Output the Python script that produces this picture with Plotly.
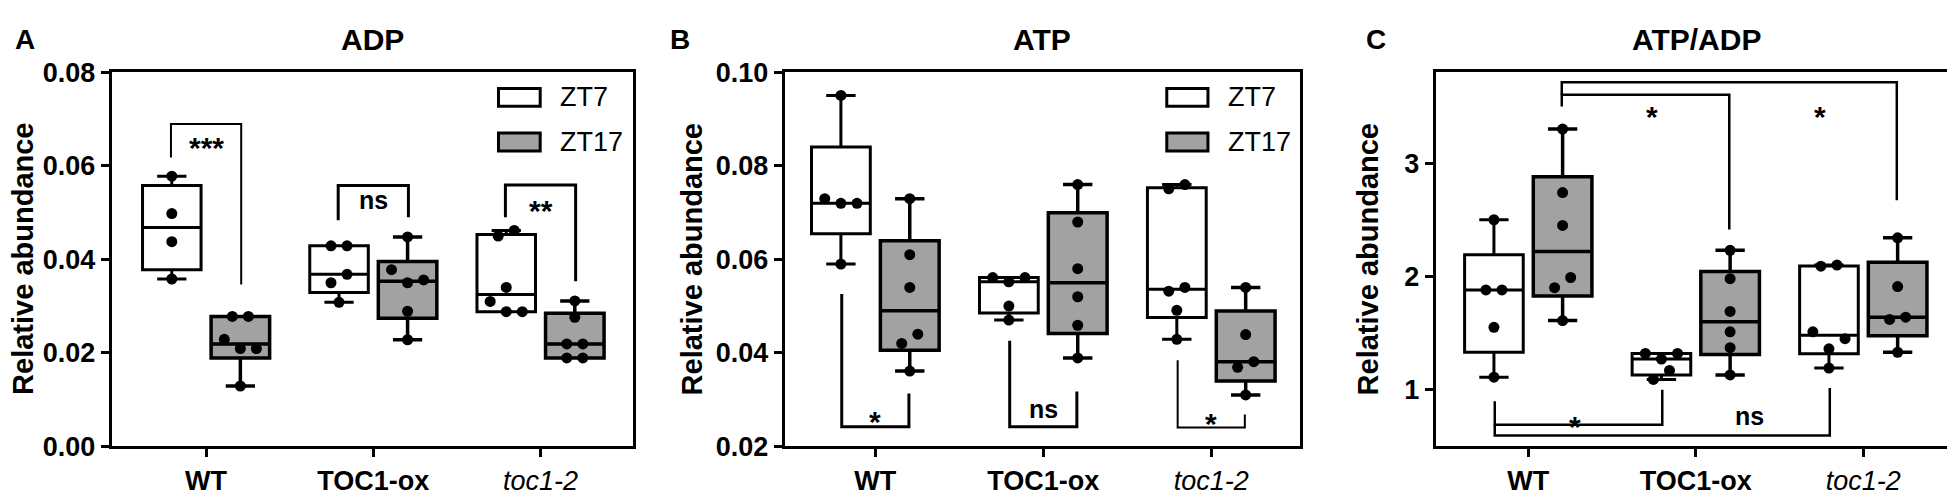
import numpy as np
import plotly.graph_objects as go

W, H = 1955, 493

groups = ["WT", "TOC1-ox", "toc1-2"]
group_labels = ["<b>WT</b>", "<b>TOC1-ox</b>", "<i>toc1-2</i>"]
times = ["ZT7", "ZT17"]

# values read per genotype (WT, TOC1-ox, toc1-2)
adp_zt7 = [[0.0358, 0.0438, 0.0498, 0.0578],
           [0.0308, 0.0350, 0.0368, 0.0429, 0.0429],
           [0.0288, 0.0288, 0.0310, 0.0340, 0.0450, 0.0462]]
adp_zt17 = [[0.0129, 0.0209, 0.0209, 0.0229, 0.0278, 0.0278],
            [0.0228, 0.0289, 0.0350, 0.0356, 0.0378, 0.0448],
            [0.0189, 0.0189, 0.0219, 0.0219, 0.0276, 0.0311]]
atp_zt7 = [[0.0590, 0.0720, 0.0720, 0.0730, 0.0951],
           [0.0470, 0.0500, 0.0552, 0.0561, 0.0561],
           [0.0429, 0.0491, 0.0532, 0.0540, 0.0751, 0.0760]]
atp_zt17 = [[0.0361, 0.0420, 0.0440, 0.0540, 0.0610, 0.0730],
            [0.0389, 0.0459, 0.0520, 0.0580, 0.0680, 0.0760],
            [0.0310, 0.0369, 0.0381, 0.0439, 0.0540]]
ratio_zt7 = [[1.11, 1.55, 1.88, 1.88, 2.50],
             [1.09, 1.17, 1.27, 1.32, 1.32],
             [1.19, 1.36, 1.45, 1.51, 2.09, 2.10]]
ratio_zt17 = [[1.61, 1.90, 1.99, 2.45, 2.74, 3.30],
              [1.13, 1.37, 1.51, 1.69, 1.98, 2.23],
              [1.33, 1.62, 1.64, 1.91, 2.34]]

titles = ["ADP", "ATP", "ATP/ADP"]
letters = ["A", "B", "C"]
y_ranges = [[0, 0.08], [0.02, 0.10], [0.5, 3.8]]
y_ticks = [[0, 0.02, 0.04, 0.06, 0.08], [0.02, 0.04, 0.06, 0.08, 0.10], [1, 2, 3]]
y_formats = [".2f", ".2f", "d"]

# significance brackets: (x start, x end, y start, y bar, y end)
adp_brackets = [(-0.21, 0.21, 0.0618, 0.0690, 0.0346),
                (0.79, 1.21, 0.0484, 0.0558, 0.0490),
                (1.79, 2.21, 0.0490, 0.0559, 0.0353)]
adp_marks = [(0.0, 0.0661, "***"), (1.0, 0.0527, "ns"), (2.0, 0.0525, "**")]
atp_brackets = [(-0.2, 0.2, 0.0526, 0.0242, 0.0313),
                (0.8, 1.2, 0.0426, 0.0242, 0.0317),
                (1.8, 2.2, 0.0384, 0.0240, 0.0268)]
atp_marks = [(0.0, 0.0275, "*"), (1.0, 0.0280, "ns"), (2.0, 0.0270, "*")]
ratio_brackets = [(0.2, 1.2, 3.499, 3.603, 2.413),
                  (0.2, 2.2, 3.603, 3.713, 2.672),
                  (-0.2, 0.8, 0.898, 0.689, 1.000),
                  (-0.2, 1.8, 0.689, 0.595, 1.014)]
ratio_marks = [(0.74, 3.50, "*"), (1.74, 3.50, "*"), (0.28, 0.76, "*"), (1.32, 0.766, "ns")]

panels = [
    (adp_zt7, adp_zt17, adp_brackets, adp_marks, [2, 3, 3]),
    (atp_zt7, atp_zt17, atp_brackets, atp_marks, [3, 3, 2]),
    (ratio_zt7, ratio_zt17, ratio_brackets, ratio_marks, [2.5, 2.5, 2.5, 2.5]),
]

# plot area in pixels
x_px = [(103.6, 625.0), (776.8, 1291.6), (1427.8, 1948.6)]
y_px = (52.7, 450.7)
x_ranges = [[-0.565, 2.553], [-0.539, 2.526], [-0.552, 2.557]]

dx = 0.205
box_w = 0.35
grey = "#a2a2a2"
FONT = "Liberation Sans"


def swarm(vals, px_per_unit, gap=11.5, step=0.096):
    v = sorted(vals)
    clusters = [[v[0]]]
    for a in v[1:]:
        if (a - clusters[-1][-1]) * px_per_unit < gap:
            clusters[-1].append(a)
        else:
            clusters.append([a])
    offs, ys = [], []
    for c in clusters:
        k = len(c)
        if k % 2:
            slots = [0]
            for i in range(1, k // 2 + 1):
                slots += [i, -i]
        else:
            slots = [i - (k - 1) / 2 for i in range(k)]
        for val, s in zip(c, slots):
            offs.append(s * step)
            ys.append(val)
    return offs, ys


def note(text, x, y, xref="paper", yref="paper", size=24, bold=True, **kw):
    opts = dict(xanchor="center", yanchor="middle")
    opts.update(kw)
    fig.add_annotation(x=x, y=y, xref=xref, yref=yref, text=text, showarrow=False,
                       font=dict(family=FONT, size=size, color="black",
                                 weight="bold" if bold else "normal"), **opts)


fig = go.Figure()
plot_h = y_px[1] - y_px[0]

for p, (zt7, zt17, brackets, marks, lws) in enumerate(panels):
    xa = "x" if p == 0 else "x%d" % (p + 1)
    ya = "y" if p == 0 else "y%d" % (p + 1)
    ppu = plot_h / (y_ranges[p][1] - y_ranges[p][0])

    for t, (series, shift, fill, lw) in enumerate([(zt7, -dx, "white", 3), (zt17, dx, grey, 3.5)]):
        pos = [i + shift for i in range(len(groups))]
        q1 = [np.percentile(s, 25, method="weibull") for s in series]
        med = [np.median(s) for s in series]
        q3 = [np.percentile(s, 75, method="weibull") for s in series]
        fig.add_trace(go.Box(
            x=pos, q1=q1, median=med, q3=q3,
            lowerfence=[min(s) for s in series], upperfence=[max(s) for s in series],
            width=box_w, whiskerwidth=0.5, fillcolor=fill,
            line=dict(color="black", width=lw), boxpoints=False,
            orientation="v", showlegend=False, hoverinfo="skip",
            xaxis=xa, yaxis=ya))
        px_, py_ = [], []
        for i, s in enumerate(series):
            offs, ys = swarm(s, ppu)
            px_ += [pos[i] + o for o in offs]
            py_ += ys
        fig.add_trace(go.Scatter(
            x=px_, y=py_, mode="markers",
            marker=dict(color="black", size=11, line=dict(width=0)),
            showlegend=False, hoverinfo="skip", xaxis=xa, yaxis=ya))

    for (x0, x1, y0, yb, y1), lw in zip(brackets, lws):
        fig.add_trace(go.Scatter(
            x=[x0, x0, x1, x1], y=[y0, yb, yb, y1], mode="lines",
            line=dict(color="black", width=lw),
            showlegend=False, hoverinfo="skip", xaxis=xa, yaxis=ya))

    for mx, my, txt in marks:
        star = "*" in txt
        note(txt, mx, my, xref=xa, yref=ya, size=30 if star else 25, yshift=-10 if star else 0)

    axis_x = dict(domain=[x_px[p][0] / W, x_px[p][1] / W], range=x_ranges[p],
                  tickvals=list(range(len(groups))), ticktext=group_labels,
                  showline=True, linecolor="black", linewidth=3, mirror=True,
                  ticks="outside", ticklen=8, tickwidth=3, tickcolor="black",
                  showgrid=False, zeroline=False, anchor=ya,
                  tickfont=dict(family=FONT, size=27, color="black"))
    axis_y = dict(domain=[1 - y_px[1] / H, 1 - y_px[0] / H], range=y_ranges[p],
                  tickvals=y_ticks[p], tickformat=y_formats[p],
                  showline=True, linecolor="black", linewidth=3, mirror=True,
                  ticks="outside", ticklen=8, tickwidth=3, tickcolor="black",
                  showgrid=False, zeroline=False, anchor=xa,
                  tickfont=dict(family=FONT, size=27, color="black", weight="bold"))
    key = "" if p == 0 else str(p + 1)
    fig.update_layout(**{"xaxis" + key: axis_x, "yaxis" + key: axis_y})

    cx = (x_px[p][0] + x_px[p][1]) / 2 / W
    note(titles[p], cx, 1 - 18 / H, size=30)
    note(letters[p], [17, 672, 1368][p] / W, 1 - 18 / H, size=28)
    note("Relative abundance", [15.5, 684, 1360][p] / W, 1 - (y_px[0] + y_px[1]) / 2 / H,
         size=29, textangle=-90)

    # legend in first two panels
    if p < 2:
        for k, (fill, y0, y1) in enumerate([("white", 0.910, 0.957), (grey, 0.790, 0.838)]):
            fig.add_shape(type="rect", xref=xa + " domain", yref=ya + " domain",
                          x0=0.742, x1=0.822, y0=y0, y1=y1, fillcolor=fill,
                          line=dict(color="black", width=3))
            note(times[k], 0.857, (y0 + y1) / 2, xref=xa + " domain", yref=ya + " domain",
                 size=27, bold=False, xanchor="left")

fig.update_layout(width=W, height=H, margin=dict(l=0, r=0, t=0, b=0),
                  plot_bgcolor="white", paper_bgcolor="white", boxmode="overlay")

fig.write_html("out.html")
